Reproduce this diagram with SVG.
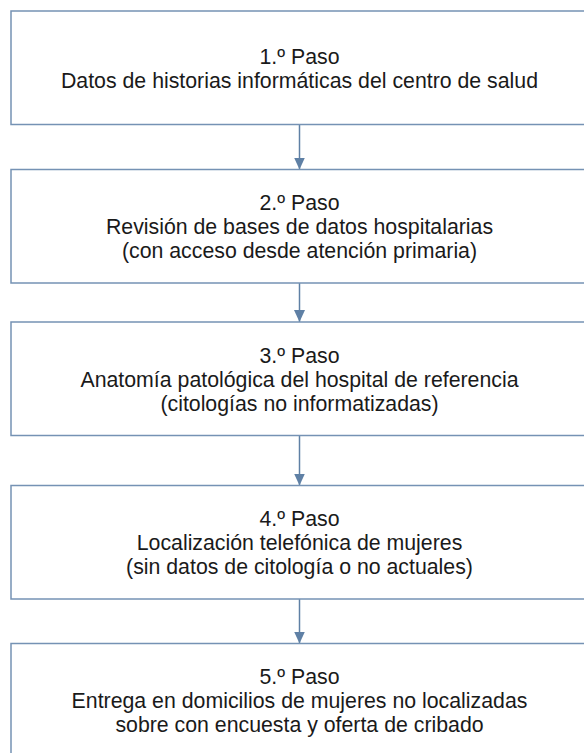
<svg xmlns="http://www.w3.org/2000/svg" width="584" height="753" viewBox="0 0 584 753">
<style>
.box{fill:#fff;stroke:#7592b4;stroke-width:1.5}
.t{font-family:"Liberation Sans",Arial,Helvetica,sans-serif;font-size:21.3px;fill:#1a1a1a;text-anchor:middle}
.c{stroke:#5f80a5;stroke-width:1.5;fill:none}
</style>
<defs>
<marker id="ah" markerUnits="userSpaceOnUse" markerWidth="12" markerHeight="11" refX="12" refY="5.5" orient="auto" viewBox="0 0 12 11">
<path d="M0,0 L12,5.5 L0,11 Z" fill="#5f80a5"/>
</marker>
</defs>
<rect width="584" height="753" fill="#fff"/>
<g id="connectors">
<line class="c" x1="299.5" y1="124.5" x2="299.5" y2="169.5" marker-end="url(#ah)"/>
<line class="c" x1="299.5" y1="283" x2="299.5" y2="322" marker-end="url(#ah)"/>
<line class="c" x1="299.5" y1="435.5" x2="299.5" y2="485.5" marker-end="url(#ah)"/>
<line class="c" x1="299.5" y1="599" x2="299.5" y2="643.5" marker-end="url(#ah)"/>
</g>
<g id="step1">
<rect class="box" x="11" y="11" width="600" height="113.5"/>
<text class="t" x="299.5" y="63.75">1.º Paso</text>
<text class="t" x="299.5" y="87.75">Datos de historias informáticas del centro de salud</text>
</g>
<g id="step2">
<rect class="box" x="11" y="169.5" width="600" height="113.5"/>
<text class="t" x="299.5" y="210.25">2.º Paso</text>
<text class="t" x="299.5" y="234.25">Revisión de bases de datos hospitalarias</text>
<text class="t" x="299.5" y="258.25">(con acceso desde atención primaria)</text>
</g>
<g id="step3">
<rect class="box" x="11" y="322" width="600" height="113.5"/>
<text class="t" x="299.5" y="362.75">3.º Paso</text>
<text class="t" x="299.5" y="386.75">Anatomía patológica del hospital de referencia</text>
<text class="t" x="299.5" y="410.75">(citologías no informatizadas)</text>
</g>
<g id="step4">
<rect class="box" x="11" y="485.5" width="600" height="113.5"/>
<text class="t" x="299.5" y="526.25">4.º Paso</text>
<text class="t" x="299.5" y="550.25">Localización telefónica de mujeres</text>
<text class="t" x="299.5" y="574.25">(sin datos de citología o no actuales)</text>
</g>
<g id="step5">
<rect class="box" x="11" y="643.5" width="600" height="113.5"/>
<text class="t" x="299.5" y="684.25">5.º Paso</text>
<text class="t" x="299.5" y="708.25">Entrega en domicilios de mujeres no localizadas</text>
<text class="t" x="299.5" y="732.25">sobre con encuesta y oferta de cribado</text>
</g>
</svg>
